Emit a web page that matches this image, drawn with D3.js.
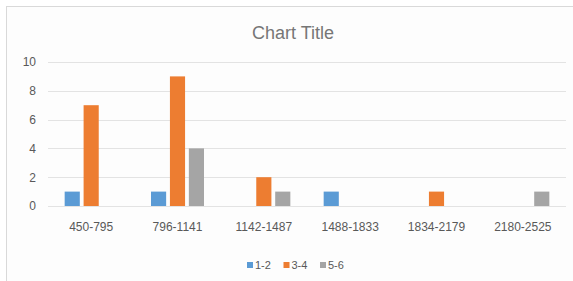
<!DOCTYPE html>
<html>
<head>
<meta charset="utf-8">
<script src="https://cdn.jsdelivr.net/npm/d3@7"></script>
<style>
  body { margin: 0; background: #fff; }
  text { font-family: "Liberation Sans", Arial, sans-serif; fill: #595959; }
</style>
</head>
<body>
<svg width="573" height="281"></svg>
<script>
const categories = ["450-795", "796-1141", "1142-1487", "1488-1833", "1834-2179", "2180-2525"]
const seriesNames = ["1-2", "3-4", "5-6"]
const s12 = [1, 1, 0, 1, 0, 0]
const s34 = [7, 9, 2, 0, 1, 0]
const s56 = [0, 4, 1, 0, 0, 1]
const yTicks = [0, 2, 4, 6, 8, 10]
const colors = ["#5b9bd5", "#ed7d31", "#a5a5a5"]

const svg = d3.select("svg")
const plotL = 48, plotR = 566, plotT = 62, plotB = 206

// frame (right and bottom edges fall outside the crop)
svg.append("rect").attr("x", 6.5).attr("y", 6.5).attr("width", 600).attr("height", 300)
  .attr("fill", "#fdfdfd").attr("stroke", "#d9d9d9")

svg.append("text").attr("x", 293).attr("y", 39).attr("text-anchor", "middle")
  .style("font-size", "18px").style("fill", "#767676").text("Chart Title")

const x0 = d3.scaleBand().domain(categories).range([plotL, plotR])
const x1 = d3.scaleBand().domain(seriesNames).range([0, 53]).paddingInner(0.2)
const y = d3.scaleLinear().domain([0, 10]).range([plotB, plotT])

// gridlines
svg.append("g").selectAll("line").data(yTicks).enter().append("line")
  .attr("x1", plotL).attr("x2", plotR)
  .attr("y1", d => Math.round(y(d)) + 0.5).attr("y2", d => Math.round(y(d)) + 0.5)
  .attr("stroke", "#e3e3e3").attr("stroke-width", 1)

const yAxis = svg.append("g").attr("transform", `translate(${plotL},0)`)
  .call(d3.axisLeft(y).tickValues(yTicks).tickSize(0).tickPadding(12))
yAxis.select(".domain").remove()
yAxis.selectAll("text").style("font-size", "12px").style("fill", "#595959")

const xAxis = svg.append("g").attr("transform", `translate(0,${plotB})`)
  .call(d3.axisBottom(x0).tickSize(0).tickPadding(16))
xAxis.select(".domain").remove()
xAxis.selectAll("text").style("font-size", "12px").style("fill", "#595959")

const rows = categories.map((c, i) => ({ cat: c, vals: [s12[i], s34[i], s56[i]] }))
const groups = svg.append("g").selectAll("g").data(rows).enter().append("g")
  .attr("transform", d => `translate(${x0(d.cat) + x0.bandwidth() / 2 - 26.5},0)`)
groups.selectAll("rect").data(d => d.vals.map((v, j) => ({ v, j }))).enter()
  .filter(d => d.v > 0)
  .append("rect")
  .attr("x", d => x1(seriesNames[d.j]))
  .attr("width", x1.bandwidth())
  .attr("y", d => y(d.v))
  .attr("height", d => y(0) - y(d.v))
  .attr("fill", d => colors[d.j])

// legend
const legend = svg.append("g").selectAll("g").data(seriesNames).enter().append("g")
  .attr("transform", (d, i) => `translate(${247 + i * 36.5},262)`)
legend.append("rect").attr("width", 6).attr("height", 6).attr("fill", (d, i) => colors[i])
legend.append("text").attr("x", 8).attr("y", 6.5).style("font-size", "11px").text(d => d)
</script>
</body>
</html>
